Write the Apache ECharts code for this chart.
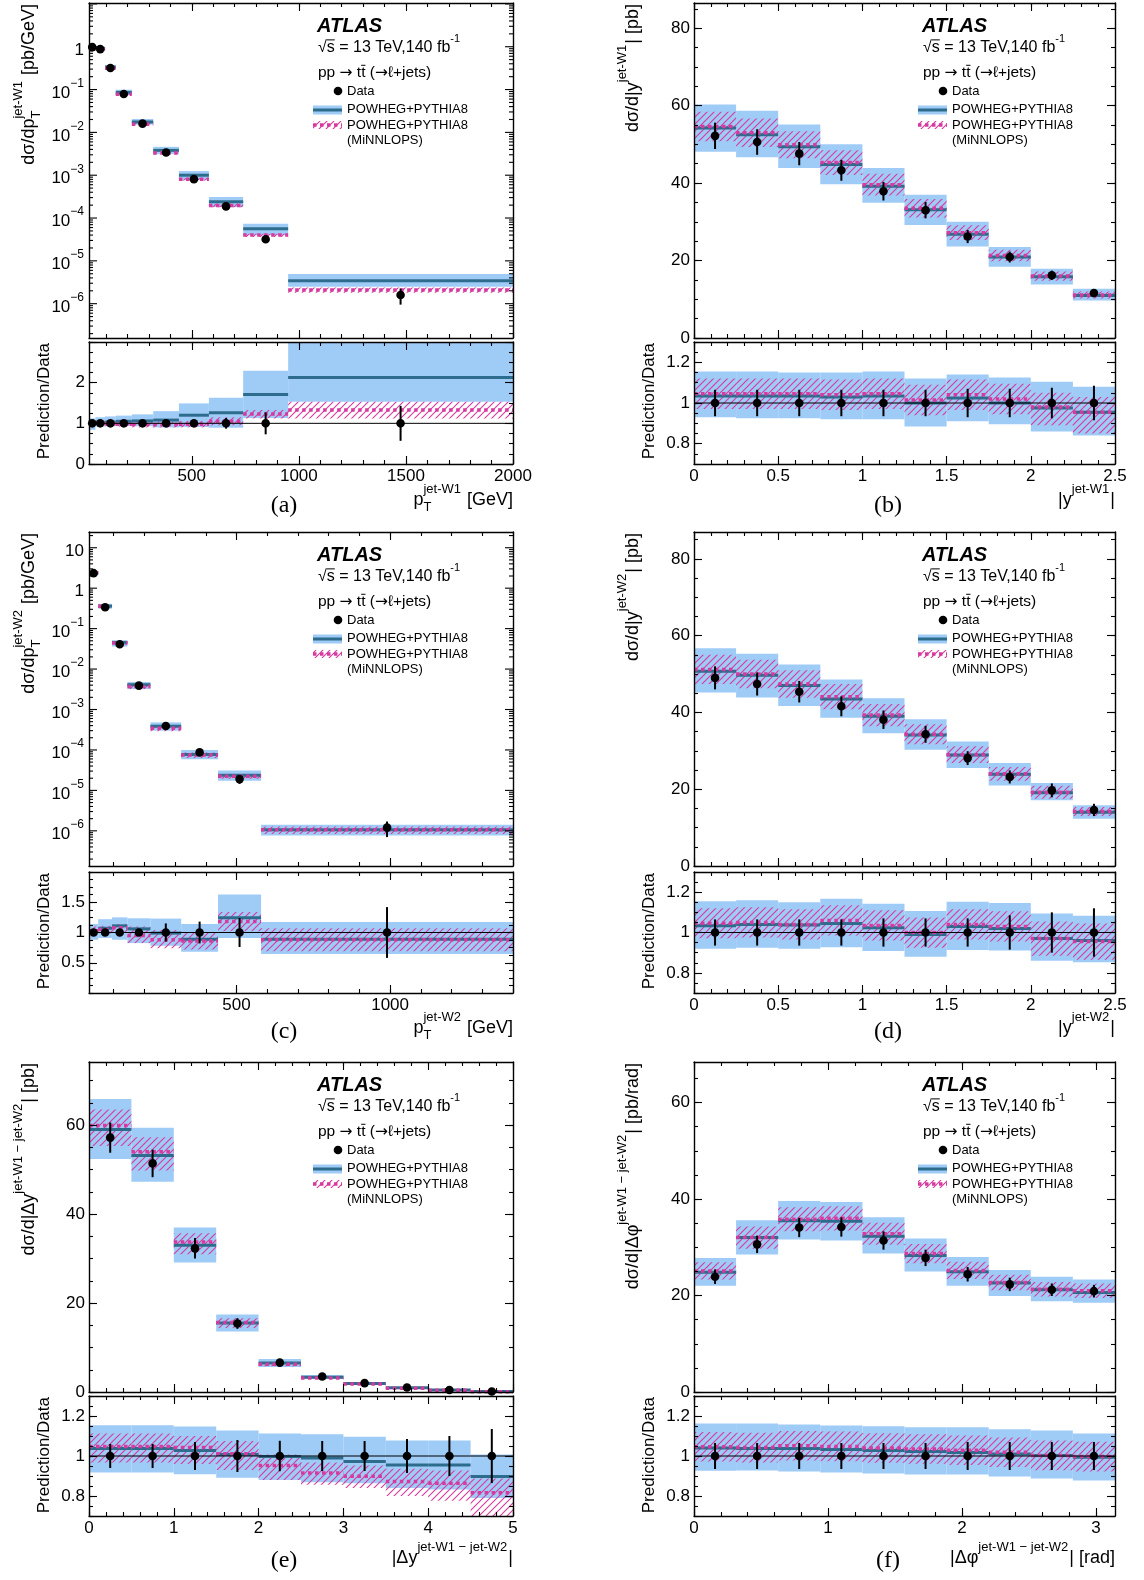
<!DOCTYPE html>
<html><head><meta charset="utf-8">
<script src="https://cdn.jsdelivr.net/npm/echarts@6.0.0/dist/echarts.min.js"></script>
<style>html,body{margin:0;padding:0;background:#fff}#c{width:1144px;height:1580px}</style>
</head><body><div id="c"></div>
<script>
// ---------------- DATA ----------------
// (a) pT jet-W1
const a_edges = [20, 50, 95, 145, 220, 320, 440, 580, 740, 950, 2000];
const a_data = [0.98, 0.88, 0.318, 0.079, 0.016, 0.0034, 0.00081, 0.000187, 3.2e-5, 1.6e-6];
const a_dataErr = [0.03, 0.026, 0.009, 0.0024, 0.0005, 0.00011, 0.00003, 0.000012, 0.5e-5, 0.65e-6];
const a_pow = [1.0, 0.91, 0.335, 0.086, 0.0175, 0.0038, 0.001, 0.00024, 5.6e-5, 3.45e-6];
const a_powLo = [0.88, 0.82, 0.3, 0.075, 0.0152, 0.0031, 0.00078, 0.00018, 4.0e-5, 2.5e-6];
const a_powHi = [1.1, 1.01, 0.375, 0.099, 0.0205, 0.0046, 0.00125, 0.00031, 7.4e-5, 4.9e-6];
const a_mnl = [0.98, 0.88, 0.315, 0.078, 0.0155, 0.0033, 0.0008, 0.000196, 4.0e-5, 2.1e-6];
const a_mnlLo = [0.93, 0.83, 0.298, 0.074, 0.0146, 0.0031, 0.00075, 0.000178, 3.6e-5, 1.8e-6];
const a_mnlHi = [1.03, 0.93, 0.332, 0.082, 0.0164, 0.0035, 0.00085, 0.000215, 4.3e-5, 2.4e-6];
const a_rPow = [1.0, 1.02, 1.03, 1.05, 1.06, 1.08, 1.2, 1.26, 1.71, 2.13];
const a_rPowLo = [0.84, 0.92, 0.93, 0.94, 0.93, 0.9, 0.91, 0.89, 1.13, 1.53];
const a_rPowHi = [1.12, 1.15, 1.17, 1.19, 1.22, 1.3, 1.49, 1.63, 2.29, 3.0];
const a_rMnl = [0.99, 1.0, 0.99, 0.98, 0.97, 0.97, 0.98, 1.05, 1.23, 1.33];
const a_rMnlLo = [0.93, 0.94, 0.93, 0.92, 0.9, 0.9, 0.9, 0.95, 1.12, 1.12];
const a_rMnlHi = [1.05, 1.06, 1.05, 1.04, 1.04, 1.04, 1.06, 1.15, 1.33, 1.53];
const a_rErr = [0.03, 0.03, 0.03, 0.03, 0.04, 0.05, 0.06, 0.13, 0.27, 0.43];
const a_xTicks = [500, 1000, 1500, 2000];
const a_yTicks = [1e-6, 1e-5, 1e-4, 1e-3, 1e-2, 1e-1, 1];
const a_rTicks = [0, 1, 2];
const a_rMajor = [0, 1, 2, 3];

// (b) |y jet-W1|
const b_edges = [0, 0.25, 0.5, 0.75, 1.0, 1.25, 1.5, 1.75, 2.0, 2.25, 2.5];
const b_data = [52.2, 50.6, 47.6, 43.3, 37.9, 33.0, 26.2, 20.9, 16.2, 11.6];
const b_dataErr = [3.4, 3.3, 3.0, 2.7, 2.4, 2.1, 1.7, 1.4, 1.2, 0.9];
const b_pow = [54.2, 52.5, 49.4, 44.8, 39.2, 33.1, 26.8, 20.9, 15.8, 11.0];
const b_powLo = [48.1, 46.7, 43.9, 39.7, 34.9, 29.2, 23.6, 18.4, 13.8, 9.7];
const b_powHi = [60.3, 58.7, 55.1, 50.0, 43.9, 37.0, 30.0, 23.5, 17.9, 12.7];
const b_mnl = [54.6, 53.0, 49.9, 45.3, 39.6, 33.5, 27.2, 21.3, 16.0, 11.1];
const b_mnlLo = [50.8, 49.3, 46.4, 42.1, 36.8, 31.1, 25.3, 19.8, 14.8, 10.2];
const b_mnlHi = [58.4, 56.7, 53.4, 48.5, 42.4, 35.9, 29.1, 22.8, 17.2, 12.0];
const b_rPow = [1.035, 1.035, 1.035, 1.03, 1.035, 1.0, 1.025, 1.0, 0.975, 0.955];
const b_rPowLo = [0.93, 0.925, 0.925, 0.92, 0.92, 0.885, 0.91, 0.895, 0.86, 0.84];
const b_rPowHi = [1.155, 1.155, 1.15, 1.15, 1.155, 1.12, 1.14, 1.125, 1.105, 1.08];
const b_rMnl = [1.045, 1.045, 1.045, 1.04, 1.045, 1.015, 1.04, 1.02, 0.98, 0.955];
const b_rMnlLo = [0.97, 0.97, 0.97, 0.965, 0.97, 0.94, 0.965, 0.945, 0.89, 0.85];
const b_rMnlHi = [1.12, 1.12, 1.12, 1.115, 1.12, 1.09, 1.115, 1.095, 1.05, 1.03];
const b_rErr = [0.065, 0.065, 0.065, 0.065, 0.065, 0.065, 0.07, 0.07, 0.075, 0.085];
const b_xTicks = [0, 0.5, 1, 1.5, 2, 2.5];
const b_yTicks = [0, 20, 40, 60, 80];
const b_rTicks = [0.8, 1, 1.2];

// (c) pT jet-W2
const c_edges = [20, 50, 95, 145, 220, 320, 440, 580, 1400];
const c_data = [2.35, 0.338, 0.041, 0.0039, 3.9e-4, 8.7e-5, 1.9e-5, 1.2e-6];
const c_dataErr = [0.12, 0.014, 0.0017, 0.00024, 0.6e-4, 1.6e-5, 0.45e-5, 0.5e-6];
const c_pow = [2.42, 0.36, 0.0457, 0.0041, 3.86e-4, 7.7e-5, 2.37e-5, 1.07e-6];
const c_powLo = [2.07, 0.31, 0.036, 0.0032, 3.0e-4, 5.9e-5, 1.73e-5, 0.77e-6];
const c_powHi = [2.68, 0.41, 0.051, 0.0048, 4.8e-4, 9.9e-5, 3.1e-5, 1.41e-6];
const c_mnl = [2.42, 0.355, 0.044, 0.0037, 3.43e-4, 7.5e-5, 2.25e-5, 1.06e-6];
const c_mnlLo = [2.25, 0.33, 0.04, 0.0032, 2.9e-4, 6.3e-5, 1.95e-5, 0.83e-6];
const c_mnlHi = [2.58, 0.375, 0.047, 0.0043, 4.05e-4, 8.7e-5, 2.55e-5, 1.28e-6];
const c_rPow = [1.03, 1.07, 1.11, 1.06, 0.99, 0.89, 1.245, 0.89];
const c_rPowLo = [0.88, 0.91, 0.88, 0.825, 0.78, 0.68, 0.91, 0.645];
const c_rPowHi = [1.14, 1.22, 1.25, 1.235, 1.23, 1.14, 1.63, 1.175];
const c_rMnl = [1.03, 1.05, 1.08, 0.95, 0.88, 0.86, 1.18, 0.88];
const c_rMnlLo = [0.96, 0.98, 1.0, 0.825, 0.74, 0.72, 1.02, 0.69];
const c_rMnlHi = [1.1, 1.11, 1.14, 1.1, 1.04, 1.0, 1.34, 1.07];
const c_rErr = [0.05, 0.04, 0.04, 0.06, 0.15, 0.18, 0.24, 0.42];
const c_xTicks = [500, 1000];
const c_yTicks = [1e-6, 1e-5, 1e-4, 1e-3, 1e-2, 1e-1, 1, 10];
const c_rTicks = [0.5, 1, 1.5];

// (d) |y jet-W2|
const d_edges = [0, 0.25, 0.5, 0.75, 1.0, 1.25, 1.5, 1.75, 2.0, 2.25, 2.5];
const d_data = [49.0, 47.4, 45.4, 41.6, 38.1, 34.3, 28.1, 23.2, 19.7, 14.6];
const d_dataErr = [3.0, 3.0, 2.8, 2.6, 2.4, 2.2, 1.8, 1.7, 1.8, 1.6];
const d_pow = [50.7, 49.7, 47.0, 43.5, 39.0, 34.1, 28.9, 23.9, 19.1, 14.0];
const d_powLo = [45.2, 43.9, 41.7, 38.6, 34.6, 30.3, 25.5, 21.0, 17.1, 12.3];
const d_powHi = [56.7, 55.3, 52.5, 48.6, 43.7, 38.2, 32.4, 26.8, 21.6, 15.8];
const d_mnl = [51.2, 50.0, 47.4, 44.1, 39.3, 34.3, 29.0, 24.0, 19.2, 14.2];
const d_mnlLo = [47.4, 46.3, 43.8, 40.8, 36.4, 31.7, 26.8, 22.2, 17.5, 13.0];
const d_mnlHi = [55.0, 53.7, 51.0, 47.4, 42.2, 36.9, 31.2, 25.8, 20.9, 15.4];
const d_rPow = [1.033, 1.04, 1.037, 1.045, 1.024, 0.99, 1.03, 1.02, 0.97, 0.96];
const d_rPowLo = [0.92, 0.925, 0.92, 0.927, 0.908, 0.88, 0.913, 0.911, 0.86, 0.852];
const d_rPowHi = [1.155, 1.16, 1.15, 1.167, 1.143, 1.106, 1.152, 1.146, 1.094, 1.083];
const d_rMnl = [1.046, 1.05, 1.04, 1.06, 1.035, 1.0, 1.04, 1.03, 0.97, 0.955];
const d_rMnlLo = [0.972, 0.975, 0.965, 0.985, 0.96, 0.925, 0.965, 0.955, 0.885, 0.865];
const d_rMnlHi = [1.12, 1.125, 1.115, 1.135, 1.11, 1.075, 1.115, 1.105, 1.055, 1.045];
const d_rErr = [0.065, 0.065, 0.065, 0.065, 0.07, 0.07, 0.07, 0.085, 0.1, 0.12];
const d_xTicks = [0, 0.5, 1, 1.5, 2, 2.5];
const d_yTicks = [0, 20, 40, 60, 80];
const d_rTicks = [0.8, 1, 1.2];

// (e) |Δy jet-W1 − jet-W2|
const e_edges = [0, 0.5, 1.0, 1.5, 2.0, 2.5, 3.0, 3.5, 4.0, 4.5, 5.0];
const e_data = [57.2, 51.4, 32.3, 15.4, 6.6, 3.5, 2.0, 1.0, 0.45, 0.1];
const e_dataErr = [3.4, 3.1, 2.3, 1.2, 0.5, 0.27, 0.15, 0.085, 0.045, 0.014];
const e_pow = [59.0, 53.2, 33.0, 15.5, 6.5, 3.3, 1.9, 0.95, 0.43, 0.09];
const e_powLo = [52.4, 47.3, 29.1, 13.6, 5.6, 2.9, 1.7, 0.84, 0.37, 0.07];
const e_powHi = [65.9, 59.4, 37.0, 17.4, 7.4, 3.8, 2.2, 1.08, 0.49, 0.1];
const e_mnl = [59.9, 54.0, 33.7, 15.6, 6.25, 3.15, 1.8, 0.87, 0.39, 0.08];
const e_mnlLo = [55.3, 49.8, 31.0, 14.4, 5.8, 2.98, 1.68, 0.8, 0.35, 0.07];
const e_mnlHi = [63.5, 57.3, 35.7, 16.6, 6.7, 3.4, 1.9, 0.94, 0.42, 0.09];
const e_rPow = [1.037, 1.037, 1.027, 1.008, 0.997, 0.99, 0.973, 0.955, 0.955, 0.898];
const e_rPowLo = [0.917, 0.917, 0.909, 0.891, 0.88, 0.869, 0.864, 0.84, 0.832, 0.79];
const e_rPowHi = [1.154, 1.154, 1.147, 1.128, 1.112, 1.109, 1.096, 1.077, 1.077, 1.008];
const e_rMnl = [1.048, 1.048, 1.043, 1.011, 0.952, 0.915, 0.899, 0.872, 0.864, 0.816];
const e_rMnlLo = [0.968, 0.968, 0.96, 0.93, 0.88, 0.856, 0.84, 0.8, 0.776, 0.7];
const e_rMnlHi = [1.112, 1.112, 1.1, 1.075, 1.008, 0.968, 0.952, 0.936, 0.928, 0.888];
const e_rErr = [0.06, 0.06, 0.07, 0.08, 0.076, 0.075, 0.075, 0.085, 0.1, 0.135];
const e_xTicks = [0, 1, 2, 3, 4, 5];
const e_yTicks = [0, 20, 40, 60];
const e_rTicks = [0.8, 1, 1.2];

// (f) |Δφ jet-W1 − jet-W2|
const f_edges = [0, 0.314, 0.628, 0.942, 1.257, 1.571, 1.885, 2.199, 2.513, 2.827, 3.1416];
const f_data = [23.9, 30.6, 34.1, 34.2, 31.4, 27.8, 24.4, 22.3, 21.2, 20.9];
const f_dataErr = [1.5, 1.8, 2.0, 2.0, 1.9, 1.7, 1.5, 1.4, 1.3, 1.3];
const f_pow = [24.8, 32.0, 35.5, 35.4, 32.3, 28.3, 24.9, 22.6, 21.2, 20.6];
const f_powLo = [22.0, 28.5, 31.6, 31.4, 28.7, 25.0, 22.0, 19.9, 18.8, 18.5];
const f_powHi = [27.8, 35.6, 39.6, 39.4, 36.2, 31.8, 28.0, 25.3, 23.9, 23.3];
const f_mnl = [25.1, 32.0, 35.8, 36.0, 32.8, 28.7, 25.2, 22.7, 21.3, 21.0];
const f_mnlLo = [23.3, 29.7, 33.3, 33.5, 30.5, 26.7, 23.4, 21.1, 19.8, 19.5];
const f_mnlHi = [26.9, 34.3, 38.3, 38.5, 35.1, 30.7, 27.0, 24.3, 22.8, 22.5];
const f_rPow = [1.04, 1.038, 1.038, 1.032, 1.027, 1.022, 1.018, 1.01, 1.002, 0.994];
const f_rPowLo = [0.926, 0.928, 0.923, 0.918, 0.912, 0.907, 0.907, 0.898, 0.888, 0.878];
const f_rPowHi = [1.163, 1.163, 1.157, 1.152, 1.149, 1.144, 1.144, 1.134, 1.128, 1.112];
const f_rMnl = [1.046, 1.042, 1.051, 1.048, 1.04, 1.035, 1.029, 1.019, 1.003, 0.997];
const f_rMnlLo = [0.972, 0.968, 0.977, 0.974, 0.966, 0.961, 0.955, 0.945, 0.929, 0.923];
const f_rMnlHi = [1.12, 1.116, 1.125, 1.122, 1.114, 1.109, 1.103, 1.093, 1.077, 1.071];
const f_rErr = [0.065, 0.065, 0.065, 0.065, 0.065, 0.065, 0.07, 0.07, 0.07, 0.07];
const f_xTicks = [0, 1, 2, 3];
const f_yTicks = [0, 20, 40, 60];
const f_rTicks = [0.8, 1, 1.2];

// ---------------- PANEL DEFINITIONS ----------------
const panels = [
  {col:0,row:0,logY:true,edges:a_edges,data:a_data,err:a_dataErr,pow:a_pow,powLo:a_powLo,powHi:a_powHi,mnl:a_mnl,mnlLo:a_mnlLo,mnlHi:a_mnlHi,
   rPow:a_rPow,rPowLo:a_rPowLo,rPowHi:a_rPowHi,rMnl:a_rMnl,rMnlLo:a_rMnlLo,rMnlHi:a_rMnlHi,rErr:a_rErr,
   xRange:[20,2000],xTicks:a_xTicks,xMinor:100,yRange:[1.58e-7,10.5],yTicks:a_yTicks,yMinor:null,rRange:[0,3],rTicks:a_rTicks,rMajor:a_rMajor,rMinor:0.25,
   yTitle:['dσ/dp',{sub:'T',sup:'jet-W1'},' [pb/GeV]'], xTitle:['p',{sub:'T',sup:'jet-W1'},' [GeV]'], tag:'(a)'},
  {col:1,row:0,logY:false,edges:b_edges,data:b_data,err:b_dataErr,pow:b_pow,powLo:b_powLo,powHi:b_powHi,mnl:b_mnl,mnlLo:b_mnlLo,mnlHi:b_mnlHi,
   rPow:b_rPow,rPowLo:b_rPowLo,rPowHi:b_rPowHi,rMnl:b_rMnl,rMnlLo:b_rMnlLo,rMnlHi:b_rMnlHi,rErr:b_rErr,
   xRange:[0,2.5],xTicks:b_xTicks,xMinor:0.1,yRange:[0,86.5],yTicks:b_yTicks,yMinor:5,rRange:[0.7,1.3],rTicks:b_rTicks,rMajor:b_rTicks,rMinor:0.05,
   yTitle:['dσ/d|y',{sup:'jet-W1'},'| [pb]'], xTitle:['|y',{sup:'jet-W1'},'|'], tag:'(b)'},
  {col:0,row:1,logY:true,edges:c_edges,data:c_data,err:c_dataErr,pow:c_pow,powLo:c_powLo,powHi:c_powHi,mnl:c_mnl,mnlLo:c_mnlLo,mnlHi:c_mnlHi,
   rPow:c_rPow,rPowLo:c_rPowLo,rPowHi:c_rPowHi,rMnl:c_rMnl,rMnlLo:c_rMnlLo,rMnlHi:c_rMnlHi,rErr:c_rErr,
   xRange:[20,1400],xTicks:c_xTicks,xMinor:100,yRange:[1.35e-7,24.5],yTicks:c_yTicks,yMinor:null,rRange:[0,2],rTicks:c_rTicks,rMajor:c_rTicks,rMinor:0.125,
   yTitle:['dσ/dp',{sub:'T',sup:'jet-W2'},' [pb/GeV]'], xTitle:['p',{sub:'T',sup:'jet-W2'},' [GeV]'], tag:'(c)'},
  {col:1,row:1,logY:false,edges:d_edges,data:d_data,err:d_dataErr,pow:d_pow,powLo:d_powLo,powHi:d_powHi,mnl:d_mnl,mnlLo:d_mnlLo,mnlHi:d_mnlHi,
   rPow:d_rPow,rPowLo:d_rPowLo,rPowHi:d_rPowHi,rMnl:d_rMnl,rMnlLo:d_rMnlLo,rMnlHi:d_rMnlHi,rErr:d_rErr,
   xRange:[0,2.5],xTicks:d_xTicks,xMinor:0.1,yRange:[0,87],yTicks:d_yTicks,yMinor:5,rRange:[0.7,1.3],rTicks:d_rTicks,rMajor:d_rTicks,rMinor:0.05,
   yTitle:['dσ/d|y',{sup:'jet-W2'},'| [pb]'], xTitle:['|y',{sup:'jet-W2'},'|'], tag:'(d)'},
  {col:0,row:2,logY:false,edges:e_edges,data:e_data,err:e_dataErr,pow:e_pow,powLo:e_powLo,powHi:e_powHi,mnl:e_mnl,mnlLo:e_mnlLo,mnlHi:e_mnlHi,
   rPow:e_rPow,rPowLo:e_rPowLo,rPowHi:e_rPowHi,rMnl:e_rMnl,rMnlLo:e_rMnlLo,rMnlHi:e_rMnlHi,rErr:e_rErr,
   xRange:[0,5],xTicks:e_xTicks,xMinor:0.2,yRange:[0,74.2],yTicks:e_yTicks,yMinor:5,rRange:[0.7,1.3],rTicks:e_rTicks,rMajor:e_rTicks,rMinor:0.05,
   yTitle:['dσ/d|Δy',{sup:'jet-W1 − jet-W2'},'| [pb]'], xTitle:['|Δy',{sup:'jet-W1 − jet-W2'},'|'], tag:'(e)'},
  {col:1,row:2,logY:false,edges:f_edges,data:f_data,err:f_dataErr,pow:f_pow,powLo:f_powLo,powHi:f_powHi,mnl:f_mnl,mnlLo:f_mnlLo,mnlHi:f_mnlHi,
   rPow:f_rPow,rPowLo:f_rPowLo,rPowHi:f_rPowHi,rMnl:f_rMnl,rMnlLo:f_rMnlLo,rMnlHi:f_rMnlHi,rErr:f_rErr,
   xRange:[0,3.1416],xTicks:f_xTicks,xMinor:0.2,yRange:[0,68.4],yTicks:f_yTicks,yMinor:5,rRange:[0.7,1.3],rTicks:f_rTicks,rMajor:f_rTicks,rMinor:0.05,
   yTitle:['dσ/d|Δφ',{sup:'jet-W1 − jet-W2'},'| [pb/rad]'], xTitle:['|Δφ',{sup:'jet-W1 − jet-W2'},'| [rad]'], tag:'(f)'}
];

// ---------------- LAYOUT & STYLE ----------------
const LAYOUT = {
  cols: [{left:89, width:424, yTitleMain:35, yTitleRatio:50, tagX:284}, {left:694, width:421, yTitleMain:639, yTitleRatio:655, tagX:888}],
  rows: [{top:3, h:335, rTop:342, rH:122, xTitleY:506, tagY:514},
         {top:532, h:334, rTop:872, rH:121, xTitleY:1034, tagY:1040},
         {top:1062, h:330, rTop:1396, rH:120, xTitleY:1564, tagY:1569}]
};
const FONT = '"Liberation Sans", Arial, Helvetica, sans-serif';
const ARROWF = '"DejaVu Sans", sans-serif';
const SERIF = '"Liberation Serif", "Times New Roman", serif';
const TICK_FS = 17;
const C_BAND = '#9fcbf7', C_LINE = '#2e6c8d', C_PINK = '#d63a9f';
function hatchCanvas(color){
  const n = 7, c = document.createElement('canvas'); c.width = n; c.height = n;
  const g = c.getContext('2d'); g.strokeStyle = color; g.lineWidth = 1.1;
  g.beginPath(); g.moveTo(0, n); g.lineTo(n, 0); g.moveTo(-1, 1); g.lineTo(1, -1); g.moveTo(n-1, n+1); g.lineTo(n+1, n-1); g.stroke();
  return c;
}
const HATCH = {image: hatchCanvas(C_PINK), repeat: 'repeat'};

const mctx = document.createElement('canvas').getContext('2d');
function measure(t, size, fam){ mctx.font = size + 'px ' + (fam || FONT); return mctx.measureText(t).width; }
function mathRow(parts, size){
  const ss = Math.round(size * 0.7);
  let x = 0; const ch = [];
  const put = (t, s, dy, fam) => ch.push({type:'text', x: x, y: dy - 0.33 * s,
    style:{text:t, font: s + 'px ' + (fam || FONT), fill:'#000', align:'left', verticalAlign:'middle'}});
  parts.forEach(p => {
    if (typeof p === 'string') { put(p, size, 0); x += measure(p, size); }
    else if (p.f) { put(p.f, size, 0, ARROWF); x += measure(p.f, size, ARROWF); }
    else if (p.over) {
      put(p.over, size, 0); const w = measure(p.over, size);
      ch.push({type:'line', shape:{x1:x, y1:-0.82*size, x2:x + w, y2:-0.82*size}, style:{stroke:'#000', lineWidth:1}});
      x += w;
    } else {
      let w = 0;
      if (p.sup) { put(p.sup, ss, -0.68 * size); w = Math.max(w, measure(p.sup, ss)); }
      if (p.sub) { put(p.sub, ss, 0.3 * size); w = Math.max(w, measure(p.sub, ss)); }
      x += w + 1;
    }
  });
  return {ch, w: x};
}

// ---------------- OPTION BUILD ----------------
const option = {animation:false, backgroundColor:'#fff', grid:[], xAxis:[], yAxis:[], series:[], graphic:{elements:[]}};
const G = option.graphic.elements;
function fmt(v){ return String(Math.round(v * 1000) / 1000); }
function steps(min, max, step){
  const out = []; const k0 = Math.ceil(min / step - 1e-9), k1 = Math.floor(max / step + 1e-9);
  for (let k = k0; k <= k1; k++) out.push(+(k * step).toFixed(6));
  return out;
}
function addGrid(left, top, width, height){
  option.grid.push({left, top, width, height, containLabel:false, outerBoundsMode:'none'});
  return option.grid.length - 1;
}
function axisDef(type, gi, pos, range, ticks, len, showLine, labels){
  const a = {type, gridIndex:gi, position:pos, min:range[0], max:range[1], z:10, silent:true,
    splitLine:{show:false}, splitArea:{show:false},
    axisLine:{show:showLine, onZero:false, lineStyle:{color:'#000', width:1.4}},
    axisTick: ticks ? {show:true, inside:true, length:len, customValues:ticks, lineStyle:{color:'#000', width:1.1}} : {show:false},
    axisLabel: labels ? {show:true, customValues:labels, margin:4, fontSize:TICK_FS, fontFamily:FONT, color:'#000', formatter: fmt} : {show:false}};
  if (type === 'log') a.logBase = 10;
  return a;
}
function addAxes(gi, xr, yr, xMaj, xMin, yMaj, yMin, xLab, yLab, logY){
  const X = option.xAxis, Y = option.yAxis;
  const xi = X.length;
  X.push(axisDef('value', gi, 'bottom', xr, xMaj, 8, true, xLab));
  X.push(axisDef('value', gi, 'bottom', xr, xMin, 4, false, null));
  X.push(axisDef('value', gi, 'top', xr, xMaj, 8, true, null));
  X.push(axisDef('value', gi, 'top', xr, xMin, 4, false, null));
  const yi = Y.length;
  if (logY) {
    Y.push(axisDef('log', gi, 'left', yr, null, 8, true, null));
    Y.push(axisDef('log', gi, 'right', yr, null, 8, true, null));
  } else {
    Y.push(axisDef('value', gi, 'left', yr, yMaj, 8, true, yLab));
    Y.push(axisDef('value', gi, 'right', yr, yMaj, 8, true, null));
    Y.push(axisDef('value', gi, 'left', yr, yMin, 4, false, null));
    Y.push(axisDef('value', gi, 'right', yr, yMin, 4, false, null));
  }
  return {x:xi, y:yi};
}
function clipRect(x0, y0, x1, y1, cs){
  const x = Math.max(Math.min(x0, x1), cs.x), X = Math.min(Math.max(x0, x1), cs.x + cs.width);
  const y = Math.max(Math.min(y0, y1), cs.y), Y = Math.min(Math.max(y0, y1), cs.y + cs.height);
  if (X <= x || Y <= y) return null;
  return {x, y, width: X - x, height: Y - y};
}
function bandSeries(ax, edges, lo, hi, style, z){
  return {type:'custom', xAxisIndex:ax.x, yAxisIndex:ax.y, z, silent:true, encode:{x:[0,1], y:[2,3]},
    data: lo.map((v, i) => [edges[i], edges[i+1], v, hi[i]]),
    renderItem(params, api){
      const p0 = api.coord([api.value(0), api.value(3)]), p1 = api.coord([api.value(1), api.value(2)]);
      const r = clipRect(p0[0], p0[1], p1[0], p1[1], params.coordSys);
      if (!r) return null;
      return {type:'rect', shape:r, style};
    }};
}
function stepSeries(ax, edges, vals, style, z){
  return {type:'custom', xAxisIndex:ax.x, yAxisIndex:ax.y, z, silent:true, encode:{x:[0,1], y:2},
    data: vals.map((v, i) => [edges[i], edges[i+1], v]),
    renderItem(params, api){
      const cs = params.coordSys;
      const p0 = api.coord([api.value(0), api.value(2)]), p1 = api.coord([api.value(1), api.value(2)]);
      const y = p0[1];
      if (y < cs.y - 0.5 || y > cs.y + cs.height + 0.5) return null;
      const xa = Math.max(p0[0], cs.x), xb = Math.min(p1[0], cs.x + cs.width);
      return {type:'line', shape:{x1:xa, y1:y, x2:xb, y2:y}, style};
    }};
}
function pointSeries(ax, edges, vals, errs, z){
  return {type:'custom', xAxisIndex:ax.x, yAxisIndex:ax.y, z, silent:true, encode:{x:0, y:1},
    data: vals.map((v, i) => [(edges[i] + edges[i+1]) / 2, v, errs[i]]),
    renderItem(params, api){
      const cs = params.coordSys;
      const x = api.value(0), v = api.value(1), e = api.value(2);
      const p = api.coord([x, v]), ph = api.coord([x, v + e]), pl = api.coord([x, Math.max(v - e, v * 1e-3)]);
      const yt = Math.max(ph[1], cs.y), yb = Math.min(pl[1], cs.y + cs.height);
      return {type:'group', children:[
        {type:'line', shape:{x1:p[0], y1:yt, x2:p[0], y2:yb}, style:{stroke:'#000', lineWidth:2}},
        {type:'circle', shape:{cx:p[0], cy:p[1], r:4.3}, style:{fill:'#000'}}]};
    }};
}
function logTickSeries(ax, xmin, yr){
  const data = [];
  for (let e = -9; e <= 3; e++) for (let k = 1; k <= 9; k++) {
    const v = k * Math.pow(10, e);
    if (v >= yr[0] && v <= yr[1]) data.push([xmin, v, k === 1 ? 1 : 0]);
  }
  return {type:'custom', xAxisIndex:ax.x, yAxisIndex:ax.y, z:11, silent:true, encode:{x:0, y:1}, data,
    renderItem(params, api){
      const cs = params.coordSys; const p = api.coord([api.value(0), api.value(1)]);
      const L = api.value(2) ? 8 : 4; const y = p[1]; const st = {stroke:'#000', lineWidth:1.1};
      return {type:'group', children:[
        {type:'line', shape:{x1:cs.x, y1:y, x2:cs.x + L, y2:y}, style:st},
        {type:'line', shape:{x1:cs.x + cs.width - L, y1:y, x2:cs.x + cs.width, y2:y}, style:st}]};
    }};
}
function logLabelSeries(ax, xmin, ticks){
  return {type:'custom', xAxisIndex:ax.x, yAxisIndex:ax.y, z:11, silent:true, encode:{x:0, y:1},
    data: ticks.map(v => [xmin, v, Math.round(Math.log10(v))]),
    renderItem(params, api){
      const cs = params.coordSys; const p = api.coord([api.value(0), api.value(1)]);
      const ex = api.value(2);
      const txt = ex === 0 ? '{b|1}' : ex === 1 ? '{b|10}' : '{b|10}{s|−' + (-ex) + '}';
      return {type:'text', x: cs.x - 5, y: p[1], style:{text: txt, align:'right', verticalAlign:'middle', fill:'#000',
        rich:{b:{fontSize:TICK_FS, fontFamily:FONT, lineHeight:24, verticalAlign:'bottom', fill:'#000'},
              s:{fontSize:12, fontFamily:FONT, lineHeight:11, verticalAlign:'top', fill:'#000'}}}};
    }};
}

function legend(L, T){
  G.push({type:'text', x:L+228, y:T+23, style:{text:'ATLAS', font:'italic bold 20px ' + FONT, fill:'#000', align:'left', verticalAlign:'middle'}});
  const r1 = mathRow(['√', {over:'s'}, ' = 13 TeV,140 fb', {sup:'-1'}], 16);
  G.push({type:'group', x:L+229, y:T+50, children:r1.ch});
  const r2 = mathRow(['pp ', {f:'→'}, ' t', {over:'t'}, ' (', {f:'→'}, 'ℓ+jets)'], 15.5);
  G.push({type:'group', x:L+229, y:T+75, children:r2.ch});
  G.push({type:'circle', shape:{cx:L+249, cy:T+88, r:4.3}, style:{fill:'#000'}});
  G.push({type:'text', x:L+258, y:T+88, style:{text:'Data', font:'13px ' + FONT, fill:'#000', align:'left', verticalAlign:'middle'}});
  G.push({type:'rect', shape:{x:L+224, y:T+102.5, width:29, height:9}, style:{fill:C_BAND}});
  G.push({type:'line', shape:{x1:L+224, y1:T+107, x2:L+253, y2:T+107}, style:{stroke:C_LINE, lineWidth:3}});
  G.push({type:'text', x:L+258, y:T+106.5, style:{text:'POWHEG+PYTHIA8', font:'13px ' + FONT, fill:'#000', align:'left', verticalAlign:'middle'}});
  G.push({type:'rect', shape:{x:L+224, y:T+118, width:29, height:8}, style:{fill:HATCH}});
  G.push({type:'line', shape:{x1:L+224, y1:T+122, x2:L+253, y2:T+122}, style:{stroke:C_PINK, lineWidth:3.5, lineDash:[3.5,3.5]}});
  G.push({type:'text', x:L+258, y:T+122.5, style:{text:'POWHEG+PYTHIA8', font:'13px ' + FONT, fill:'#000', align:'left', verticalAlign:'middle'}});
  G.push({type:'text', x:L+258, y:T+137, style:{text:'(MiNNLOPS)', font:'13px ' + FONT, fill:'#000', align:'left', verticalAlign:'middle'}});
}

const S = option.series;
panels.forEach(P => {
  const col = LAYOUT.cols[P.col], row = LAYOUT.rows[P.row];
  const gM = addGrid(col.left, row.top, col.width, row.h);
  const gR = addGrid(col.left, row.rTop, col.width, row.rH);
  const xMin = steps(P.xRange[0], P.xRange[1], P.xMinor);
  const axM = addAxes(gM, P.xRange, P.yRange, P.xTicks, xMin, P.yTicks,
                      P.logY ? null : steps(P.yRange[0], P.yRange[1], P.yMinor), null, P.yTicks, P.logY);
  const axR = addAxes(gR, P.xRange, P.rRange, P.xTicks, xMin, P.rMajor,
                      steps(P.rRange[0], P.rRange[1], P.rMinor), P.xTicks, P.rTicks, false);
  // main panel
  S.push(bandSeries(axM, P.edges, P.powLo, P.powHi, {fill:C_BAND}, 2));
  S.push(bandSeries(axM, P.edges, P.mnlLo, P.mnlHi, {fill:HATCH}, 3));
  S.push(stepSeries(axM, P.edges, P.pow, {stroke:C_LINE, lineWidth:3}, 4));
  S.push(stepSeries(axM, P.edges, P.mnl, {stroke:C_PINK, lineWidth:3.5, lineDash:[3.5,3.5]}, 5));
  S.push(pointSeries(axM, P.edges, P.data, P.err, 7));
  if (P.logY) {
    S.push(logTickSeries(axM, P.xRange[0], P.yRange));
    S.push(logLabelSeries(axM, P.xRange[0], P.yTicks));
  }
  // ratio panel
  S.push(bandSeries(axR, P.edges, P.rPowLo, P.rPowHi, {fill:C_BAND}, 2));
  S.push(bandSeries(axR, P.edges, P.rMnlLo, P.rMnlHi, {fill:HATCH}, 3));
  S.push(stepSeries(axR, P.edges, P.rPow, {stroke:C_LINE, lineWidth:3}, 4));
  S.push(stepSeries(axR, P.edges, P.rMnl, {stroke:C_PINK, lineWidth:3.5, lineDash:[3.5,3.5]}, 5));
  S.push(stepSeries(axR, [P.xRange[0], P.xRange[1]], [1], {stroke:'#000', lineWidth:1}, 6));
  S.push(pointSeries(axR, P.edges, P.rPow.map(() => 1), P.rErr, 7));
  // titles
  const yt = mathRow(P.yTitle, 18);
  G.push({type:'group', x:col.yTitleMain, y:row.top + 1 + yt.w, rotation:Math.PI/2, children:yt.ch});
  const rt = mathRow(['Prediction/Data'], 17);
  G.push({type:'group', x:col.yTitleRatio, y:row.rTop + 1 + rt.w, rotation:Math.PI/2, children:rt.ch});
  const xt = mathRow(P.xTitle, 18);
  G.push({type:'group', x:col.left + col.width - xt.w, y:row.xTitleY, children:xt.ch});
  G.push({type:'text', x:col.tagX, y:row.tagY - 8, style:{text:P.tag, font:'24px ' + SERIF, fill:'#000', align:'center', verticalAlign:'middle'}});
  legend(col.left, row.top);
});

const chart = echarts.init(document.getElementById('c'), null, {renderer:'canvas', width:1144, height:1580});
chart.setOption(option);
</script></body></html>
